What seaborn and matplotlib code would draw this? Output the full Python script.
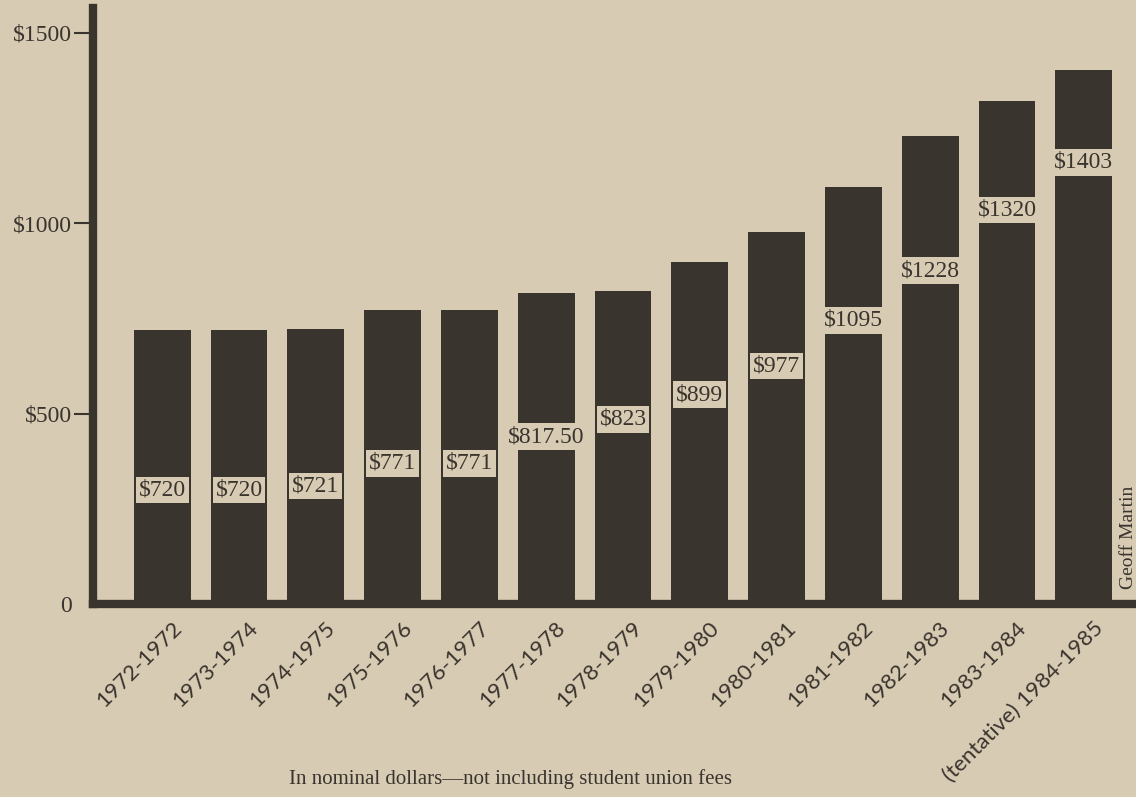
import pandas as pd
import matplotlib
matplotlib.use("Agg")
import matplotlib.pyplot as plt
import matplotlib.transforms as mtransforms
import seaborn as sns

lata = ["1972-1972", "1973-1974", "1974-1975", "1975-1976", "1976-1977",
        "1977-1978", "1978-1979", "1979-1980", "1980-1981", "1981-1982",
        "1982-1983", "1983-1984", "(tentative) 1984-1985"]
czesne = [720, 720, 721, 771, 771, 817.5, 823, 899, 977, 1095, 1228, 1320, 1403]
etykiety = ["$720", "$720", "$721", "$771", "$771", "$817.50", "$823", "$899",
            "$977", "$1095", "$1228", "$1320", "$1403"]
# wysokosc etykiet w jednostkach osi (tak jak w gazecie)
poz_etykiet = [300, 300, 310, 370, 370, 440, 485, 550, 625, 745, 875, 1035, 1160]

tlo = "#d8cbb3"
ciemny = "#3a342e"

sns.set_style("white")
plt.rcParams["font.family"] = ["Liberation Serif", "DejaVu Serif"]

df = pd.DataFrame({"rok": lata, "czesne": czesne})

fig = plt.figure(figsize=(11.36, 7.97), dpi=100, facecolor=tlo)
ax = fig.add_axes([0.082, 0.242, 0.918, 0.748])
ax.set_facecolor(tlo)

sns.barplot(data=df, x="rok", y="czesne", color=ciemny, saturation=1,
            width=0.74, linewidth=0, edgecolor="none", ax=ax)

for i, (tekst, yy) in enumerate(zip(etykiety, poz_etykiet)):
    ax.text(i, yy, tekst, ha="center", va="center", fontsize=17, color=ciemny,
            bbox=dict(boxstyle="square,pad=0.12", fc=tlo, ec="none"))

ax.set_xlim(-0.9, 12.68)
ax.set_ylim(0, 1565)
ax.set_yticks([0, 500, 1000, 1500])
ax.set_yticklabels(["0", "$500", "$1000", "$1500"], fontsize=17, color=ciemny)
ax.set_xticks(range(len(lata)))
ax.set_xticklabels(lata, rotation=45, ha="right", rotation_mode="anchor",
                   fontsize=16, color=ciemny, family=["Lato", "DejaVu Sans"])
ax.tick_params(axis="y", left=True, direction="out", length=14, width=1.5,
               color=ciemny, pad=1)
ax.yaxis.get_major_ticks()[0].tick1line.set_visible(False)
ax.tick_params(axis="x", bottom=False, length=0, pad=10)
przesun = mtransforms.ScaledTranslation(9 / 100, 0, fig.dpi_scale_trans)
for lab in ax.get_xticklabels():
    lab.set_transform(lab.get_transform() + przesun)
ax.set_xlabel("")
ax.set_ylabel("")

for s in ["top", "right"]:
    ax.spines[s].set_visible(False)
for s in ["left", "bottom"]:
    ax.spines[s].set_color(ciemny)
    ax.spines[s].set_linewidth(6)

fig.text(0.449, 0.022, "In nominal dollars\u2014not including student union fees",
         ha="center", va="center", fontsize=15, color=ciemny)
fig.text(0.993, 0.326, "Geoff Martin", rotation=90, ha="center", va="center",
         fontsize=14, color=ciemny)

plt.savefig("out.png", dpi=100, facecolor=tlo)
